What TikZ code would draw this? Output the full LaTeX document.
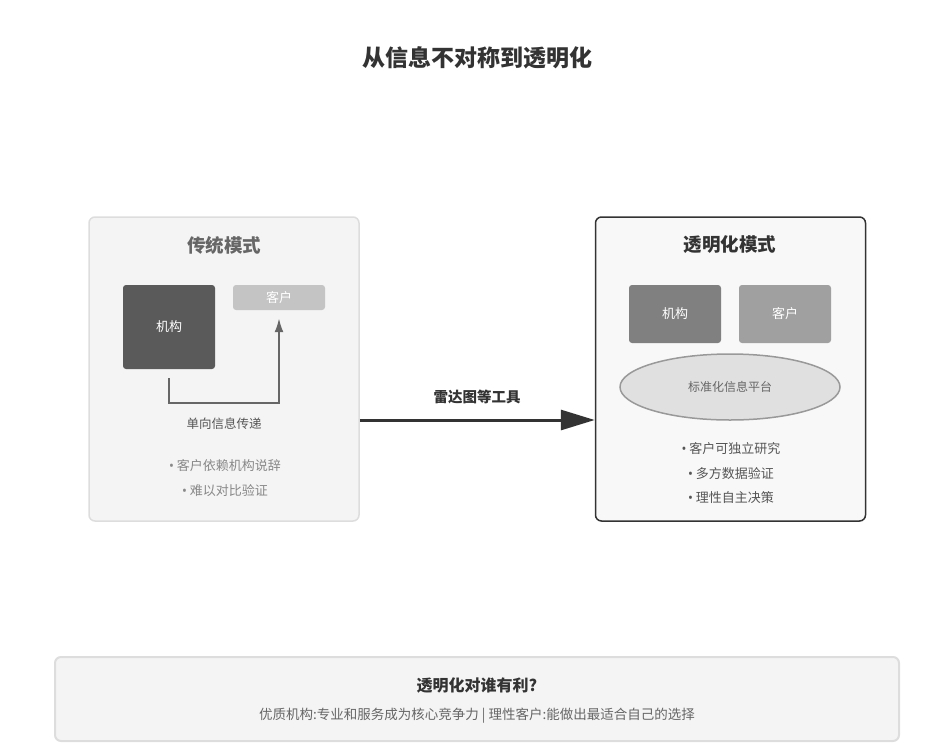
\documentclass[tikz,border=0pt]{standalone}
\usepackage{fontspec}
\setmainfont{Noto Sans CJK SC}
\newfontfamily\dotfont{Noto Sans}
\usepackage{xcolor}
\usepackage{tikz}
\usetikzlibrary{arrows.meta,positioning,shapes.geometric}
\definecolor{trInk}{HTML}{333333}
\definecolor{trGrey}{HTML}{666666}
\definecolor{trMuted}{HTML}{888888}
\definecolor{trText}{HTML}{555555}
\definecolor{trEdge}{HTML}{DDDDDD}
\definecolor{trPale}{HTML}{F4F4F4}
\definecolor{trSoft}{HTML}{F8F8F8}
\definecolor{trOrgDark}{HTML}{5A5A5A}
\definecolor{trClientPale}{HTML}{C4C4C4}
\definecolor{trOrgMid}{HTML}{808080}
\definecolor{trClientMid}{HTML}{A0A0A0}
\definecolor{trPlatform}{HTML}{E0E0E0}
\definecolor{trPlatformEdge}{HTML}{999999}
\newcommand{\dotitem}{{\dotfont •}\hspace{3pt}}
\tikzset{
  modepanel/.style={rectangle,draw=trEdge,line width=1.5pt,fill=trPale,rounded corners=6pt,
    minimum width=270pt,minimum height=304pt,inner sep=0pt},
  openpanel/.style={modepanel,draw=trInk,fill=trSoft},
  rolebox/.style={rectangle,rounded corners=3pt,minimum width=92pt,inner sep=0pt,
    text=white,font=\fontsize{13}{15}\selectfont},
  platform/.style={ellipse,draw=trPlatformEdge,line width=1.5pt,fill=trPlatform,
    minimum width=220pt,minimum height=66pt,inner sep=0pt,text=trGrey,font=\fontsize{12}{14}\selectfont},
  panelhead/.style={font=\fontsize{18.5}{21}\selectfont\bfseries},
  bullet/.style={font=\fontsize{13}{15}\selectfont,inner sep=0pt},
  linkarrow/.style={-{Latex[length=14pt,width=9pt]},draw=trGrey,line width=2pt},
  toolarrow/.style={-{Triangle[length=34pt,width=20pt]},draw=trInk,line width=3pt}
}
\begin{document}
\begin{tikzpicture}[x=1pt,y=-1pt]
  \useasboundingbox (0,0) rectangle (952,755);
  \node[font=\fontsize{23}{27}\selectfont\bfseries,text=trInk] (title) at (477,58) {从信息不对称到透明化};

  % traditional mode
  \node[modepanel] (oldpanel) at (224,369) {};
  \node[panelhead,text=trGrey] (oldhead) at (224,245) {传统模式};
  \node[rolebox,fill=trOrgDark,minimum height=84pt] (oldorg) at (169,327) {机构};
  \node[rolebox,fill=trClientPale,minimum height=25pt] (oldclient) at (279,297.5) {客户};
  \draw[linkarrow,shorten <=9pt,shorten >=8pt] (oldorg.south) -- ++(0,34) -| (oldclient.south);
  \node[bullet,text=trText,font=\fontsize{12.5}{14}\selectfont] (oneway) at (224,424) {单向信息传递};
  \node[bullet,text=trMuted] (oldpointa) at (225,466) {\dotitem 客户依赖机构说辞};
  \node[bullet,text=trMuted,below=12pt of oldpointa] (oldpointb) {\dotitem 难以对比验证};

  % transparent mode
  \node[openpanel] (newpanel) at (730.5,369) {};
  \node[panelhead,text=trInk] (newhead) at (730,245) {透明化模式};
  \node[rolebox,fill=trOrgMid,minimum height=58pt] (neworg) at (675,314) {机构};
  \node[rolebox,fill=trClientMid,minimum height=58pt] (newclient) at (785,314) {客户};
  \node[platform] (hub) at (730,387) {标准化信息平台};
  \node[bullet,text=trText] (newpointa) at (731,449) {\dotitem 客户可独立研究};
  \node[bullet,text=trText,below=12pt of newpointa] (newpointb) {\dotitem 多方数据验证};
  \node[bullet,text=trText,below=12pt of newpointb] (newpointc) {\dotitem 理性自主决策};

  % shift between the modes
  \coordinate (flowline) at (0,420);
  \draw[toolarrow] (oldpanel.east |- flowline) -- (newpanel.west |- flowline);
  \node[font=\fontsize{14.5}{17}\selectfont\bfseries,text=trInk] (toollabel) at (477,397) {雷达图等工具};

  % who gains
  \node[modepanel,line width=2pt,minimum width=844pt,minimum height=84pt] (gainbox) at (477,699) {};
  \node[font=\fontsize{16}{19}\selectfont\bfseries,text=trInk] (gainhead) at (477,685) {透明化对谁有利?};
  \node[bullet,text=trGrey,font=\fontsize{13.5}{16}\selectfont] (gaintext) at (477,716) {优质机构:专业和服务成为核心竞争力 | 理性客户:能做出最适合自己的选择};
\end{tikzpicture}
\end{document}
